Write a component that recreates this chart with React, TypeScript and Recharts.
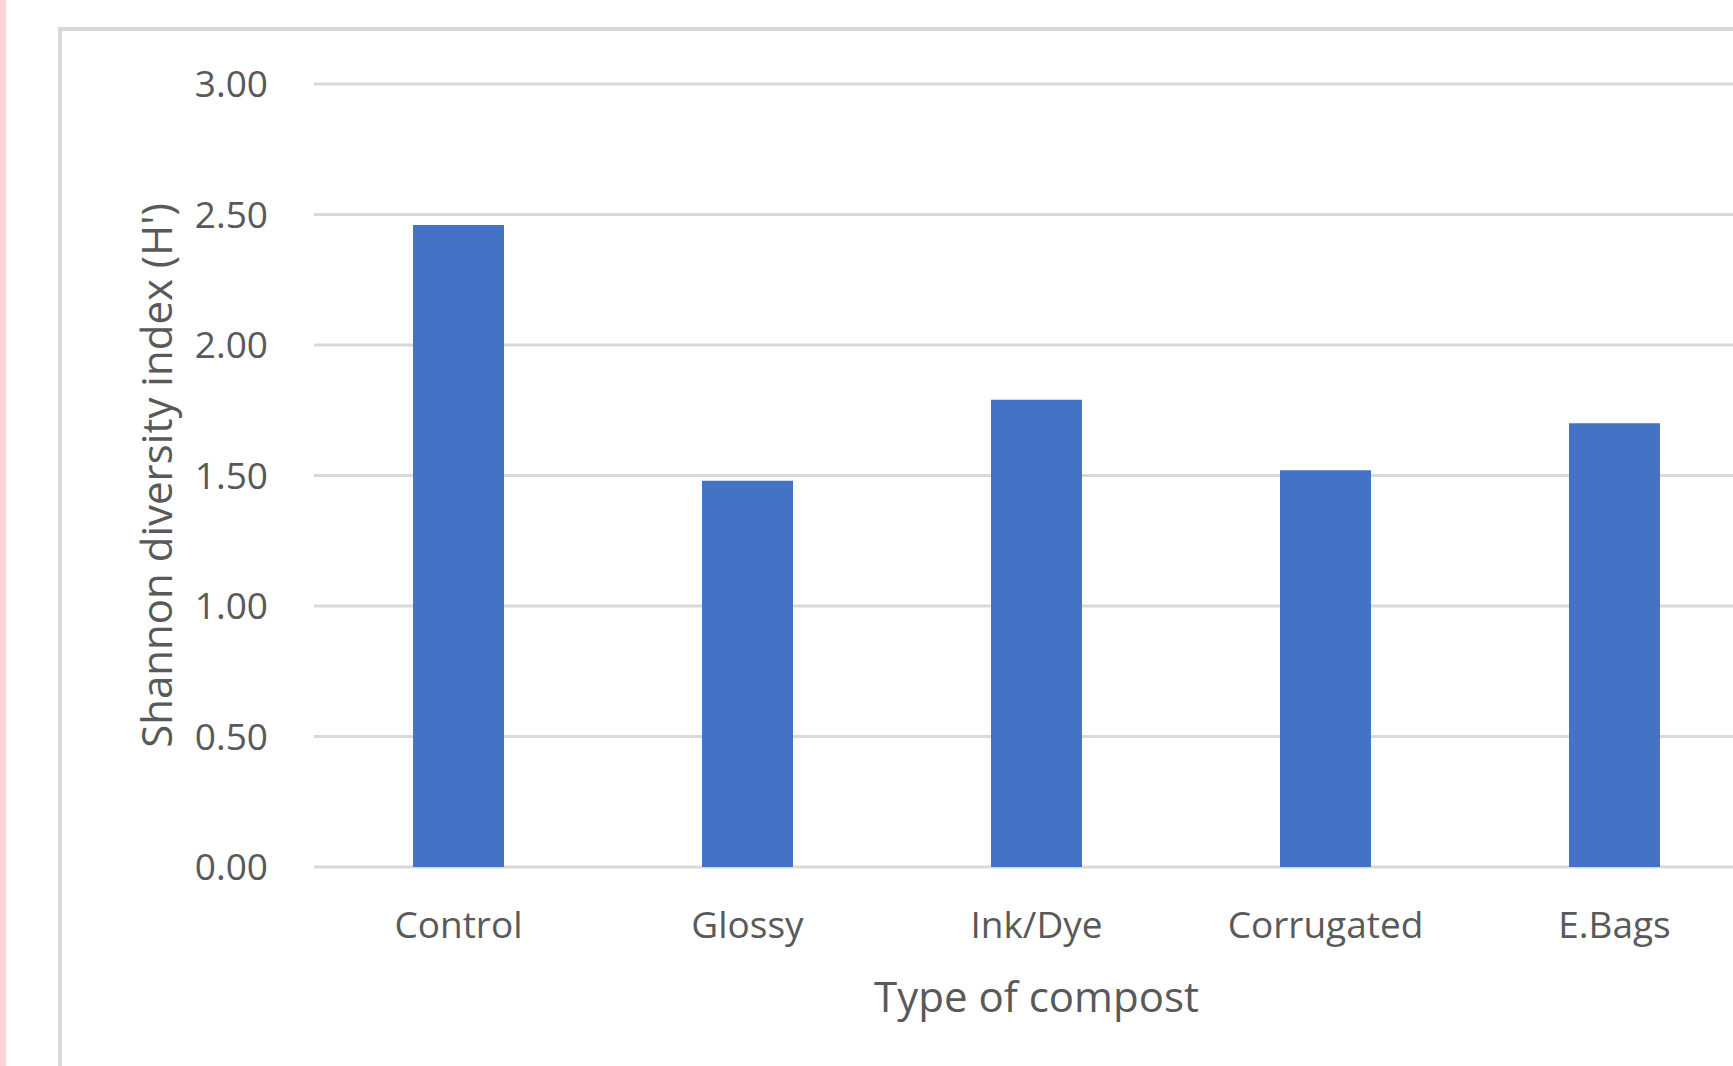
import React from 'react';
import { BarChart, Bar, XAxis, YAxis, CartesianGrid } from 'recharts';

const CATEGORIES = ['Control', 'Glossy', 'Ink/Dye', 'Corrugated', 'E.Bags'];
const SHANNON_VALUES = [2.46, 1.48, 1.79, 1.52, 1.7];
const Y_TICKS = [0, 0.5, 1, 1.5, 2, 2.5, 3];

const BAR_COLOR = '#4472C4';
const GRID_COLOR = '#d9d9d9';
const TEXT_COLOR = '#595959';
const FONT = "'Open Sans', 'Noto Sans', sans-serif";

const App: React.FC = () => {
  const data = CATEGORIES.map((name, i) => ({ name, value: SHANNON_VALUES[i] }));

  return (
    <div
      style={{
        position: 'absolute',
        left: 0,
        top: 0,
        width: 1733,
        height: 1066,
        overflow: 'hidden',
        background: '#ffffff',
        fontFamily: FONT,
      }}
    >
      {/* pink strip on the far left */}
      <div style={{ position: 'absolute', left: 0, top: 0, width: 6, height: 1066, background: '#ffd3d6' }} />
      {/* chart area frame, runs off the right and bottom edge */}
      <div
        style={{
          position: 'absolute',
          left: 58,
          top: 27,
          width: 1800,
          height: 1200,
          borderLeft: `4px solid ${GRID_COLOR}`,
          borderTop: `4px solid ${GRID_COLOR}`,
        }}
      />
      <div style={{ position: 'absolute', left: 0, top: 0 }}>
        <BarChart
          width={1780}
          height={1066}
          data={data}
          margin={{ top: 84, right: 21, left: 0, bottom: 0 }}
        >
          <CartesianGrid vertical={false} stroke={GRID_COLOR} strokeWidth={3} />
          <XAxis
            dataKey="name"
            height={199}
            axisLine={false}
            tickLine={false}
            tickSize={0}
            tickMargin={45}
            tick={{ fill: TEXT_COLOR, fontSize: 37, fontFamily: FONT }}
            label={{
              value: 'Type of compost',
              position: 'insideBottom',
              offset: 54,
              fill: TEXT_COLOR,
              fontSize: 42,
              fontFamily: FONT,
            }}
          />
          <YAxis
            width={314}
            domain={[0, 3]}
            ticks={Y_TICKS}
            interval={0}
            axisLine={false}
            tickLine={false}
            tickSize={0}
            tickMargin={46}
            tickFormatter={(v: number) => v.toFixed(2)}
            tick={{ fill: TEXT_COLOR, fontSize: 37, fontFamily: FONT }}
            label={{
              value: "Shannon diversity index (H')",
              angle: -90,
              position: 'center',
              fill: TEXT_COLOR,
              fontSize: 42,
              fontFamily: FONT,
            }}
          />
          <Bar dataKey="value" fill={BAR_COLOR} barSize={91} isAnimationActive={false} />
        </BarChart>
      </div>
    </div>
  );
};

export default App;
